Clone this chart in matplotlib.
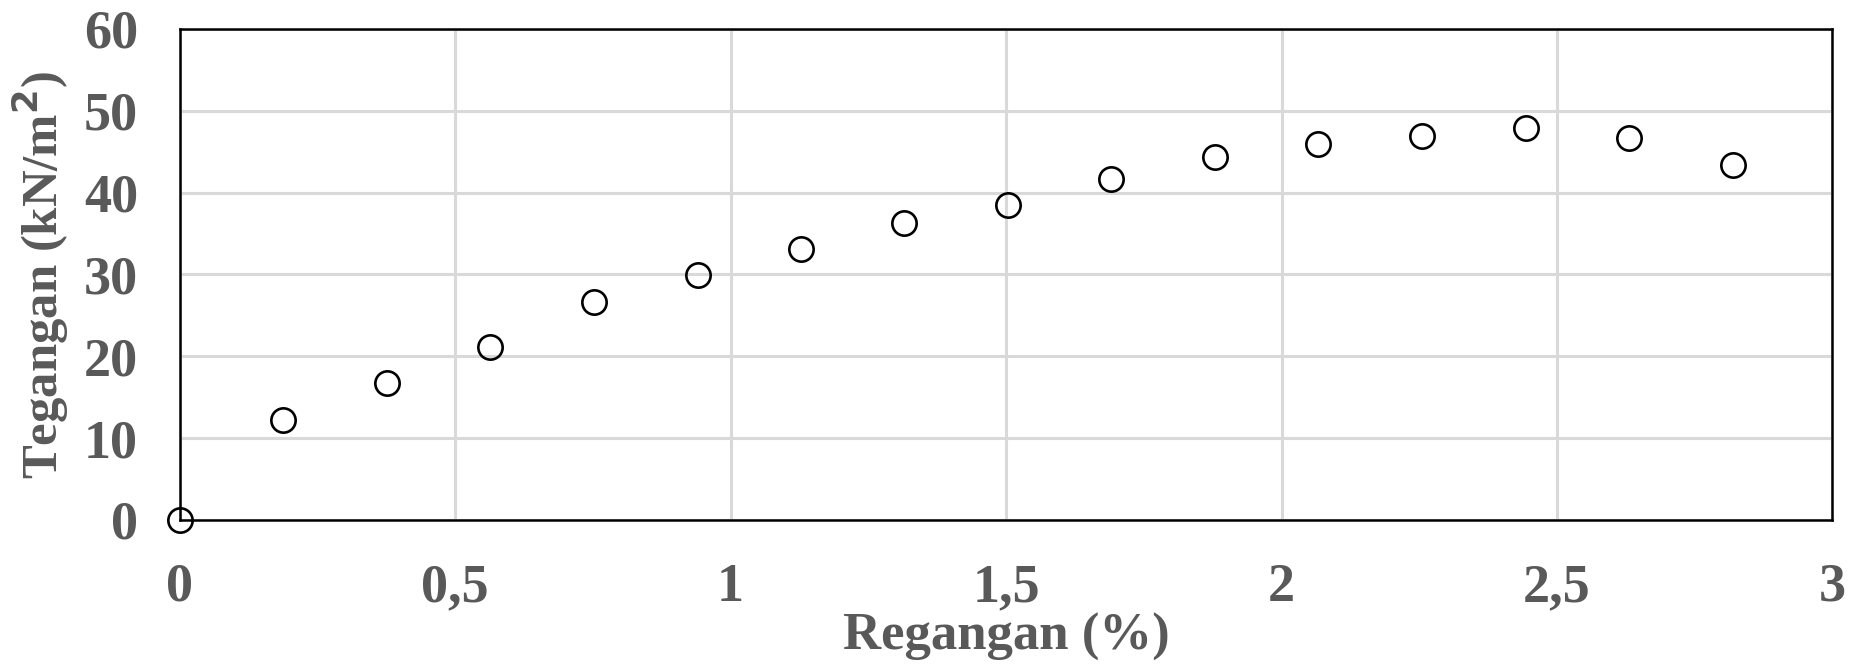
import matplotlib
matplotlib.use("Agg")
import matplotlib.pyplot as plt
from matplotlib.ticker import FuncFormatter

# Strain (%) and stress (kN/m²) readings
regangan = [0.0, 0.188, 0.376, 0.564, 0.752, 0.940, 1.127, 1.315, 1.503,
            1.691, 1.879, 2.067, 2.255, 2.443, 2.631, 2.819]
tegangan = [0.0, 12.2, 16.7, 21.1, 26.6, 29.9, 33.1, 36.3, 38.5,
            41.7, 44.3, 45.9, 46.9, 47.9, 46.6, 43.4]

x_ticks = [0, 0.5, 1, 1.5, 2, 2.5, 3]
y_ticks = [0, 10, 20, 30, 40, 50, 60]

text_color = "#595959"
font = {"family": "Liberation Serif", "weight": "bold", "color": text_color}

fig = plt.figure(figsize=(18.66, 6.70), dpi=100)
ax = fig.add_axes([0.0963, 0.224, 0.8857, 0.733])

ax.plot(regangan, tegangan, linestyle="none", marker="o", markersize=17.5,
        markerfacecolor="none", markeredgecolor="black", markeredgewidth=1.9,
        clip_on=False, zorder=5)

ax.set_xlim(0, 3)
ax.set_ylim(0, 60)
ax.set_xticks(x_ticks)
ax.set_yticks(y_ticks)

comma = FuncFormatter(lambda v, p: ("%g" % v).replace(".", ","))
ax.xaxis.set_major_formatter(comma)
ax.yaxis.set_major_formatter(comma)

ax.grid(True, color="#d9d9d9", linewidth=2.2)
ax.set_axisbelow(True)
for s in ax.spines.values():
    s.set_color("black")
    s.set_linewidth(1.8)

ax.tick_params(length=0)
ax.tick_params(axis="y", pad=30)
ax.tick_params(axis="x", pad=31)
for lbl in ax.get_xticklabels() + ax.get_yticklabels():
    lbl.set_fontfamily("Liberation Serif")
    lbl.set_fontweight("bold")
    lbl.set_fontsize(39)
    lbl.set_color(text_color)

ax.set_xlabel("Regangan (%)", fontsize=38, labelpad=0, **font)
ax.set_ylabel("Tegangan (kN/m$^\\mathbf{2}$)", fontsize=36.5, labelpad=9, **font)

fig.savefig("out.png", dpi=100, facecolor="white")
